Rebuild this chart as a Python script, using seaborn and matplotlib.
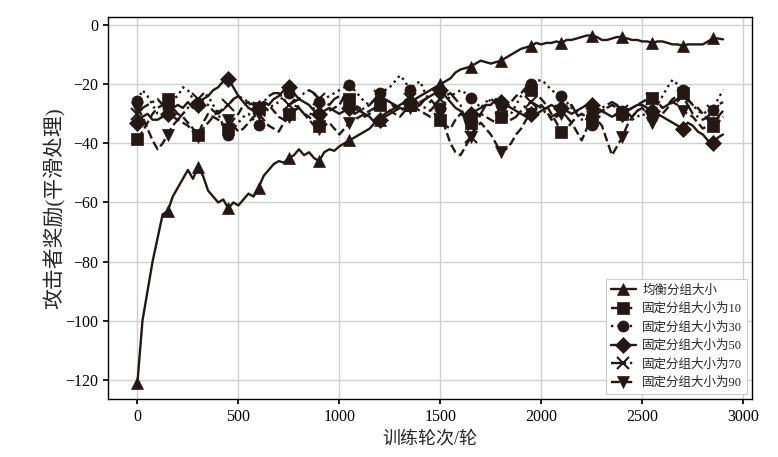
import numpy as np
import pandas as pd
import matplotlib
matplotlib.use("Agg")
import matplotlib.pyplot as plt
import seaborn as sns

episodes = list(range(0, 2901, 25))

balanced = [-121, -100, -90, -80, -72, -64, -63, -58,
            -55, -52, -49, -52, -48, -51, -56, -58,
            -60, -59, -62, -60, -61, -59, -57, -58,
            -55, -51, -49, -47, -46, -46.5, -45, -44,
            -42, -44, -43, -45, -46, -43, -42, -42.5,
            -41, -40, -39, -38, -37, -36, -35, -33,
            -32, -31, -30, -29, -28, -28.5, -27, -25,
            -24, -23, -22, -21, -20, -19, -18, -16,
            -15, -14.5, -14, -13, -12, -12.5, -13, -12.5,
            -12, -11, -10, -9, -8, -7.5, -7, -6,
            -6.5, -6, -6, -5.5, -6, -5, -5, -4.5,
            -4, -3.5, -3.5, -4, -5, -5, -4.5, -4,
            -4, -4.5, -5, -5, -5.5, -5.5, -6, -5.5,
            -5.5, -6, -6.5, -6.5, -7, -6.5, -6.5, -6.5,
            -6.5, -5.5, -4.5, -4.5, -4.8]

fixed10 = [-38.5, -36, -33, -30, -28, -27, -25, -28,
           -30, -31, -33, -35, -37, -33, -30, -31,
           -32, -34, -35, -32, -30, -27, -26, -29,
           -28, -26, -27, -29, -31, -32, -30, -27,
           -28, -30, -31, -33, -34, -31, -29, -28,
           -27, -24, -25, -27, -28, -31, -30, -28,
           -27, -25, -26, -28, -29, -28, -27, -28,
           -29, -30, -31, -30, -32, -34, -35, -32,
           -30, -31, -33, -31, -30, -31, -32, -33,
           -31, -28, -26, -24, -23, -21, -22, -23,
           -25, -27, -30, -33, -36, -35, -33, -31,
           -30, -31, -32, -30, -29, -28, -27, -28,
           -30, -29, -28, -27, -26, -25, -24.6, -26,
           -28, -27, -25, -24, -23, -25, -27, -28,
           -30, -32, -34, -33, -31]

fixed30 = [-25.5, -22, -24, -27, -30, -31, -28, -25,
           -24, -21, -22, -25, -26.4, -23, -24, -27,
           -30, -34, -37, -35, -33, -31, -30, -32,
           -33.7, -31, -28, -27, -26, -24, -23, -25,
           -28, -30, -31, -28, -26, -25, -24, -23,
           -22, -21, -20.3, -22, -24, -26, -27, -25,
           -23, -22, -21, -19, -17, -19, -22, -20,
           -19, -23, -26, -27, -28, -26, -24, -23,
           -22, -23, -24.6, -26, -28, -26, -25, -26,
           -27, -29, -30, -27, -24, -22, -20, -19,
           -18.5, -20, -22, -23, -24, -26, -28, -29,
           -30, -32, -33.7, -32, -30, -28, -27, -28,
           -29, -31, -32, -31, -30, -31, -31, -27,
           -24, -21, -18.5, -20, -22, -25, -27, -29,
           -30, -29, -28.6, -25, -22]

fixed50 = [-33, -31, -30, -32, -32, -31, -30, -28,
           -27, -28, -26, -28, -27, -25, -24, -22,
           -21, -19, -18.3, -21, -24, -26, -28, -29,
           -28, -26, -27, -25, -24, -22, -21, -23,
           -25, -26, -27, -29, -30, -29, -28, -29,
           -30, -29, -28, -30, -29, -30, -31, -33,
           -32, -30, -29, -28, -27, -26, -26, -28,
           -27, -25, -24, -23, -22, -24, -26, -28,
           -29, -31, -30, -29, -28, -27, -27, -25,
           -26, -27, -28, -29, -30, -31, -30, -30,
           -29, -28, -27, -28, -28, -29, -30, -29,
           -28, -27, -27, -28, -29, -30, -31, -30,
           -30, -29, -28, -27, -27, -28, -29, -30,
           -31, -32, -33, -34, -35, -33, -34, -36,
           -37, -39, -40, -38, -37]

fixed70 = [-30, -28, -27, -26, -25, -27, -29, -31,
           -32, -30, -28, -26, -25, -26, -27, -29,
           -30, -28, -27, -25, -24, -25, -26, -27,
           -28, -26, -24, -23, -23, -25, -27, -26,
           -25, -23, -22, -23, -25, -26, -27, -25,
           -24, -25, -26, -28, -29, -28, -27, -25,
           -24, -25, -26, -27, -28, -26, -25, -26,
           -27, -28, -29, -27, -25, -24, -23, -25,
           -27, -33, -38, -34, -30, -27, -25, -26,
           -28, -30, -32, -31, -29, -27, -26, -27,
           -28, -30, -31, -30, -29, -28, -27, -30,
           -32, -31, -30, -29, -28, -27, -26, -27,
           -29, -30, -31, -29, -27, -26, -25, -26,
           -28, -27, -26, -25, -24, -27, -30, -31,
           -32, -31, -29, -27, -26]

fixed90 = [-28, -31, -35, -39, -42, -40, -37, -34,
           -32, -33, -34, -36, -38, -35, -33, -31,
           -29, -30, -32, -34, -36, -35, -33, -31,
           -30, -32, -34, -35, -36, -33, -31, -29,
           -28, -30, -32, -34, -35, -34, -33, -35,
           -37, -35, -33, -32, -31, -30, -29, -28,
           -27, -28, -29, -30, -31, -29, -28, -27,
           -26, -25, -25, -27, -30, -35, -40, -43,
           -44, -41, -38, -35, -33, -35, -37, -40,
           -43, -42, -40, -37, -35, -32, -30, -28,
           -27, -29, -32, -31, -30, -31, -33, -36,
           -39, -35, -31, -32, -34, -39, -44, -41,
           -38, -34, -31, -29, -28, -30, -33, -31,
           -30, -28, -26, -27, -29, -30, -31, -33,
           -35, -34, -33, -31, -29]

labels = ["均衡分组大小", "固定分组大小为10", "固定分组大小为30",
          "固定分组大小为50", "固定分组大小为70", "固定分组大小为90"]
series = [balanced, fixed10, fixed30, fixed50, fixed70, fixed90]
markers = ["^", "s", "o", "D", "x", "v"]
styles = ["-", "--", ":", "-", "-.", "--"]

sns.set_theme(style="whitegrid")
plt.rcParams["font.family"] = ["Liberation Serif", "Noto Sans CJK SC"]
plt.rcParams["axes.unicode_minus"] = True
plt.rcParams["axes.edgecolor"] = "black"
plt.rcParams["axes.linewidth"] = 1.0
plt.rcParams["grid.color"] = "#d0d0d0"
plt.rcParams["xtick.major.size"] = 3.5
plt.rcParams["ytick.major.size"] = 3.5
plt.rcParams["xtick.color"] = "black"
plt.rcParams["ytick.color"] = "black"

col = "#231815"
fig = plt.figure(figsize=(7.78, 4.57), dpi=100)
ax = fig.add_axes([0.139, 0.127, 0.828, 0.836])

for lab, vals, mk, ls in zip(labels, series, markers, styles):
    df = pd.DataFrame({"x": episodes[:len(vals)], "y": vals})
    sns.lineplot(data=df, x="x", y="y", ax=ax, color=col, linestyle=ls, linewidth=1.7,
                 marker=mk, markersize=8, markevery=6, markeredgecolor=col,
                 markeredgewidth=1.5 if mk == "x" else 0.5, label=lab)

ax.set_xticks([0, 500, 1000, 1500, 2000, 2500, 3000])
ax.set_yticks([0, -20, -40, -60, -80, -100, -120])
ax.tick_params(axis="both", labelsize=11.5, direction="out", left=True, bottom=True)
ax.set_xlabel("训练轮次/轮", fontsize=13)
ax.set_ylabel("攻击者奖励(平滑处理)", fontsize=15, labelpad=0)
ax.set_xlim(-145, 3045)
ax.set_ylim(-126.5, 2.8)

leg = ax.legend(loc="lower right", fontsize=9, frameon=True, fancybox=False,
                edgecolor="#cccccc", framealpha=1, handlelength=2.0,
                handletextpad=0.5, borderaxespad=0.4)
leg.get_frame().set_linewidth(0.8)

fig.savefig("out.png", dpi=100)
